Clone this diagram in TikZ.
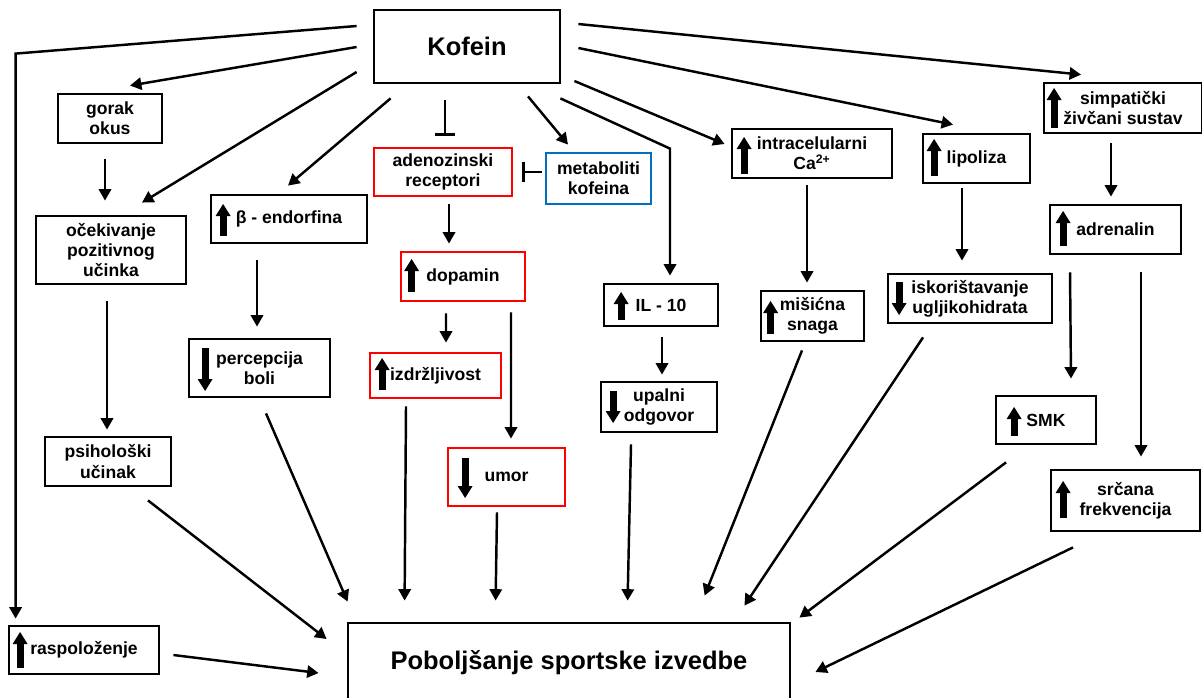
\documentclass[tikz,border=0pt]{standalone}
\usepackage{fontspec}
\setmainfont{Liberation Sans}
\usetikzlibrary{arrows.meta,calc}

\definecolor{kofblue}{RGB}{0,112,192}

\tikzset{
    box/.style={draw, line width=1.6pt, align=center, inner sep=1pt,
        font=\fontsize{10}{11.5}\selectfont\bfseries},
    redbox/.style={box, draw=red},
    bluebox/.style={box, draw=kofblue},
    bigbox/.style={box, font=\fontsize{14.5}{17}\selectfont\bfseries},
    sz/.style 2 args={minimum width=#1*0.02cm, minimum height=#2*0.02cm},
    arr/.style={line width=1.4pt, -{Triangle[length=6.5pt,width=7pt]}},
    blk/.style={line width=1.4pt, -{Bar[width=11pt]}},
    % thick block arrows inside the boxes
    pics/upblk/.style={code={
        \fill (-3.5,{#1/2}) rectangle (3.5,{-#1/2+11});
        \fill (-7.5,{-#1/2+12}) -- (7.5,{-#1/2+12}) -- (0,{-#1/2}) -- cycle;
    }},
    pics/downblk/.style={code={
        \fill (-3.5,{-#1/2}) rectangle (3.5,{#1/2-11});
        \fill (-7.5,{#1/2-12}) -- (7.5,{#1/2-12}) -- (0,{#1/2}) -- cycle;
    }},
}

\begin{document}
\begin{tikzpicture}[x=0.02cm, y=-0.02cm]
    \useasboundingbox (0,0) rectangle (1202,697);

    % the caffeine box on top
    \node[bigbox, sz={186}{73}] (kofein) at (467,46.5) {Kofein};

    % left column
    \node[box, sz={104}{49}] (gorak) at (110,118.5) {gorak\\okus};
    \node[box, sz={150}{68}] (ocek) at (111,250) {očekivanje\\pozitivnog\\učinka};
    \node[box, sz={126}{49}] (psih) at (108,461.5) {psihološki\\učinak};
    \node[box, sz={150}{48}] (rasp) at (84,650) {raspoloženje};

    % endorphin branch
    \node[box, sz={156}{48}] (endorf) at (289,219) {β - endorfina};
    \node[box, sz={141}{58}] (perc) at (259.5,368) {percepcija\\boli};

    % adenosine branch (red boxes)
    \node[redbox, sz={138}{48}] (adeno) at (443,172) {adenozinski\\receptori};
    \node[bluebox, sz={105}{51}] (metab) at (598.5,178.5) {metaboliti\\kofeina};
    \node[redbox, sz={124}{49}] (dopamin) at (463,276.5) {dopamin};
    \node[redbox, sz={131}{45}] (izdrz) at (435.5,375.5) {izdržljivost};
    \node[redbox, sz={117}{58}] (umor) at (506.5,477) {umor};

    % IL-10 branch
    \node[box, sz={114}{42}] (il10) at (661,305) {IL - 10};
    \node[box, sz={116}{50}] (upalni) at (659,407) {upalni\\odgovor};

    % calcium and lipolysis
    \node[box, sz={160}{49}] (intra) at (812,153.5) {intracelularni\\Ca\textsuperscript{2+}};
    \node[box, sz={103}{50}] (misic) at (812.5,316) {mišićna\\snaga};
    \node[box, sz={107}{49}] (lipo) at (976.5,158.5) {lipoliza};
    \node[box, sz={164}{49}] (iskor) at (970,298.5) {iskorištavanje\\ugljikohidrata};

    % sympathetic branch
    \node[box, sz={158}{50}] (simpat) at (1123,108) {simpatički\\živčani sustav};
    \node[box, sz={131}{49}] (adren) at (1115.5,229.5) {adrenalin};
    \node[box, sz={100}{48}] (smk) at (1046,420) {SMK};
    \node[box, sz={149}{61}] (srcana) at (1125.5,500.5) {srčana\\frekvencija};

    % the result box at the bottom
    \node[bigbox, sz={442}{79}] (pobolj) at (569,662.5) {Poboljšanje sportske izvedbe};

    % the up and down arrows in the boxes
    \foreach \n/\dx/\dy/\h in {endorf/13.5/1/32, dopamin/12/-1/33, izdrz/13.5/-1.5/32,
        il10/18.5/1/28, intra/13.5/2/37, misic/11/1.5/33, lipo/12.5/-1/37,
        simpat/11.5/0/40, adren/14.5/-1/35, smk/19.5/1.5/29, srcana/13.5/-1/37,
        rasp/12.5/0/36}
    \pic at ($(\n.west)+(\dx,\dy)$) {upblk=\h};
    \foreach \n/\dx/\dy/\h in {perc/17.5/1.5/43, umor/18.5/1/40, upalni/13.5/0/32,
        iskor/12.5/0/33}
    \pic at ($(\n.west)+(\dx,\dy)$) {downblk=\h};

    % Kofein -> raspolozenje, round the left side
    \draw[arr] ($(kofein.west)+(-16,-20.5)$) -- ($(rasp.north west)+(8,-571)$)
        -- ($(rasp.north west)+(8,-6)$);
    % Kofein -> the boxes below it
    \draw[arr] ($(kofein.west)+(-16,0.5)$) -- ($(gorak.north)+(20,-7)$);
    \draw[arr] ($(kofein.west)+(-16,25.5)$) -- ($(ocek.north)+(31,-12)$);
    \draw[arr] ($(kofein.south west)+(18,14)$) -- ($(endorf.north)+(-1,-8)$);
    \draw[blk] ($(kofein.south)+(-22,16)$) -- ($(adeno.north)+(2,-11)$);
    \draw[arr] ($(kofein.south)+(61,12)$) -- ($(metab.north)+(-30.5,-7)$);
    \draw[arr] ($(kofein.south east)+(-1,14)$) -- ($(il10.north)+(9,-134)$)
        -- ($(il10.north)+(9,-7)$);
    \draw[arr] ($(kofein.east)+(13,34.5)$) -- ($(intra.west)+(-6,-9.5)$);
    \draw[arr] ($(kofein.east)+(17,1.5)$) -- ($(lipo.north)+(-23.5,-8)$);
    \draw[arr] ($(kofein.east)+(17,-22.5)$) -- ($(simpat.north)+(-42,-7)$);

    % metaboliti block the receptors
    \draw[blk] ($(metab.west)+(-3,-6.5)$) -- ($(adeno.east)+(9,0)$);

    % the vertical chains
    \draw[arr] ($(gorak.south)+(-5,15)$) -- ($(ocek.north)+(-6,-14)$);
    \draw[arr] ($(ocek.south)+(-4,16)$) -- ($(psih.north)+(-1,-6)$);
    \draw[arr] ($(endorf.south)+(-32,16)$) -- ($(perc.north)+(-2.5,-11)$);
    \draw[arr] ($(adeno.south)+(6,7)$) -- ($(dopamin.north)+(-14,-7)$);
    \draw[arr] ($(dopamin.south)+(-17,11)$) -- ($(izdrz.north)+(10.5,-9)$);
    \draw[arr] ($(dopamin.south)+(48,10)$) -- ($(umor.north)+(4.5,-8)$);
    \draw[arr] ($(il10.south)+(1,10)$) -- ($(upalni.north)+(3,-6)$);
    \draw[arr] ($(intra.south)+(-5,6)$) -- ($(misic.north)+(-5.5,-7)$);
    \draw[arr] ($(lipo.south)+(-14.5,4)$) -- ($(iskor.north)+(-8,-12)$);
    \draw[arr] ($(simpat.south)+(-12,9)$) -- ($(adren.north)+(-4.5,-7)$);
    \draw[arr] ($(adren.south)+(-45.5,17)$) -- ($(smk.north)+(25,-16)$);
    \draw[arr] ($(adren.south)+(25.5,17)$) -- ($(srcana.north)+(15.5,-12)$);

    % everything into the result box
    \draw[arr] ($(rasp.east)+(13,5)$) -- ($(pobolj.west)+(-28,10.5)$);
    \draw[arr] ($(psih.south)+(40,13)$) -- ($(pobolj.west)+(-20,-23.5)$);
    \draw[arr] ($(perc.south)+(6.5,15)$) -- ($(pobolj.north west)+(1,-20)$);
    \draw[arr] ($(izdrz.south)+(-29.5,7)$) -- ($(pobolj.north west)+(58,-21)$);
    \draw[arr] ($(umor.south)+(-9.5,5)$) -- ($(pobolj.north west)+(149,-21)$);
    \draw[arr] ($(upalni.south)+(-28,11)$) -- ($(pobolj.north west)+(281,-21)$);
    \draw[arr] ($(misic.south)+(-10.5,8)$) -- ($(pobolj.north west)+(358,-26)$);
    \draw[arr] ($(iskor.south)+(-47,13)$) -- ($(pobolj.north east)+(-47,-16)$);
    \draw[arr] ($(smk.south)+(-40,17)$) -- ($(pobolj.north east)+(8,-4)$);
    \draw[arr] ($(srcana.south)+(-52.5,15)$) -- ($(pobolj.east)+(24,9.5)$);
\end{tikzpicture}
\end{document}
